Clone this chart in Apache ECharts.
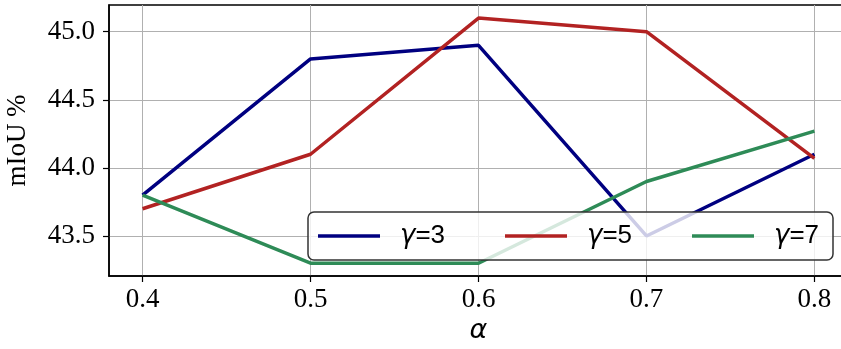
<!DOCTYPE html>
<html><head><meta charset="utf-8">
<script src="https://cdn.jsdelivr.net/npm/echarts@6/dist/echarts.min.js"></script>
<style>html,body{margin:0;padding:0;background:#fff}#c{width:841px;height:349px}</style>
</head><body><div id="c"></div>
<script>
const alphas = [0.4, 0.5, 0.6, 0.7, 0.8];
const gamma3 = [43.8, 44.8, 44.9, 43.5, 44.1];
const gamma5 = [43.7, 44.1, 45.1, 45.0, 44.07];
const gamma7 = [43.8, 43.3, 43.3, 43.9, 44.27];
const seriesNames = ['γ=3', 'γ=5', 'γ=7'];
const xTicks = [0.4, 0.5, 0.6, 0.7, 0.8];
const yTicks = [43.5, 44.0, 44.5, 45.0];

const colors = ['#000080', '#b22222', '#2e8b57'];
const serif = '"Liberation Serif", "Times New Roman", serif';

function pairs(ys) { return alphas.map((a, i) => [a, ys[i]]); }
const allData = [gamma3, gamma5, gamma7];

const chart = echarts.init(document.getElementById('c'), null, {renderer: 'canvas'});
chart.setOption({
  animation: false,
  grid: {left: 109, top: 5, right: -7, bottom: 73, outerBoundsMode: 'none', containLabel: false,
         show: true, borderColor: '#000', borderWidth: 1.5, backgroundColor: '#fff'},
  xAxis: {
    type: 'value', min: 0.38, max: 0.82,
    name: 'α', nameLocation: 'middle', nameGap: 40,
    nameTextStyle: {fontFamily: '"DejaVu Sans"', fontStyle: 'italic', fontSize: 27, color: '#000'},
    axisLine: {show: true, lineStyle: {color: '#000', width: 1.5}},
    axisTick: {show: true, customValues: xTicks, length: 6, inside: false, lineStyle: {color: '#000', width: 1.2}},
    axisLabel: {customValues: xTicks, margin: 10, fontFamily: serif, fontSize: 27, color: '#000', formatter: v => v.toFixed(1)},
    splitLine: {show: true, customValues: xTicks, lineStyle: {color: '#b0b0b0', width: 1}}
  },
  yAxis: {
    type: 'value', min: 43.206, max: 45.196,
    name: 'mIoU %', nameLocation: 'middle', nameGap: 78,
    nameTextStyle: {fontFamily: serif, fontSize: 27, color: '#000'},
    axisLine: {show: true, lineStyle: {color: '#000', width: 1.5}},
    axisTick: {show: true, customValues: yTicks, length: 6, inside: false, lineStyle: {color: '#000', width: 1.2}},
    axisLabel: {customValues: yTicks, margin: 14, fontFamily: serif, fontSize: 27, color: '#000', formatter: v => v.toFixed(1)},
    splitLine: {show: true, customValues: yTicks, lineStyle: {color: '#b0b0b0', width: 1}}
  },
  legend: {
    left: 308, top: 212, orient: 'horizontal',
    data: seriesNames,
    icon: 'rect', itemWidth: 62, itemHeight: 3.5, itemGap: 55,
    padding: [9, 9, 9, 10],
    backgroundColor: 'rgba(255,255,255,0.8)',
    borderColor: '#333', borderWidth: 1.5, borderRadius: 6,
    textStyle: {
      width: 50, padding: [0, 0, 0, 15], fontSize: 26, lineHeight: 30, color: '#000',
      fontFamily: '"Liberation Sans", "DejaVu Sans", sans-serif',
      rich: {g: {fontFamily: '"DejaVu Sans"', fontStyle: 'italic', fontSize: 26, color: '#000'}}
    },
    formatter: n => '{g|γ}' + n.slice(1)
  },
  series: seriesNames.map((n, i) => ({
    name: n, type: 'line', data: pairs(allData[i]),
    showSymbol: false, symbol: 'none',
    lineStyle: {color: colors[i], width: 3.5},
    itemStyle: {color: colors[i]}
  }))
});
</script></body></html>
